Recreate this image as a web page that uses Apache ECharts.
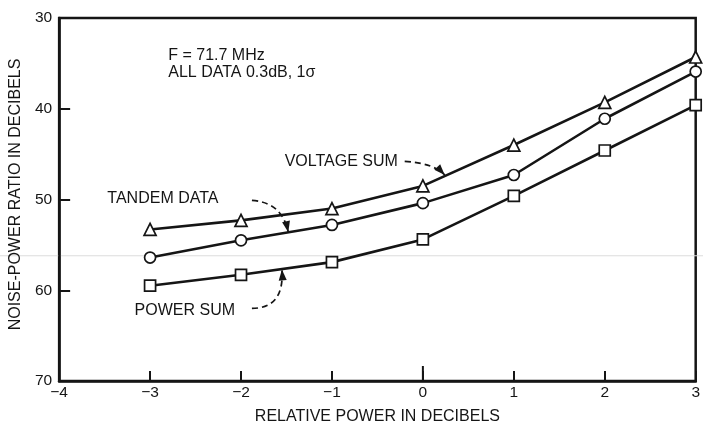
<!DOCTYPE html>
<html><head><meta charset="utf-8">
<script src="https://cdn.jsdelivr.net/npm/echarts@6/dist/echarts.min.js"></script>
<style>html,body{margin:0;padding:0;background:#fff;overflow:hidden}#c{width:703px;height:430px}</style>
</head><body><div id="c"></div>
<script>
const xValues = [-3, -2, -1, 0, 1, 2, 3];
const voltageSum = [53.3, 52.3, 51.0, 48.5, 44.0, 39.3, 34.3];
const tandemData = [56.4, 54.5, 52.8, 50.4, 47.3, 41.1, 35.9];
const powerSum = [59.5, 58.3, 56.9, 54.4, 49.6, 44.6, 39.6];
const xTicks = [-4, -3, -2, -1, 0, 1, 2, 3];
const yTicks = [30, 40, 50, 60, 70];

const FONT = '"Liberation Sans", Arial, sans-serif';
const INK = '#151515';
const chart = echarts.init(document.getElementById('c'));
const pairs = arr => xValues.map((x, i) => [x, arr[i]]);
const mk = (name, data, sym, size) => ({
  name, type: 'line', data: pairs(data), symbol: sym, symbolSize: size,
  showAllSymbol: true, clip: false,
  lineStyle: { color: INK, width: 2.6 },
  itemStyle: { color: '#fff', borderColor: INK, borderWidth: 1.7 },
  z: 3
});
chart.setOption({
  animation: false,
  backgroundColor: '#fff',
  grid: { left: 58, right: 1, top: 18, bottom: 43, show: true, borderColor: INK, borderWidth: 2.5, backgroundColor: 'transparent' },
  xAxis: {
    type: 'value', min: xTicks[0], max: xTicks[xTicks.length - 1], interval: 1,
    name: 'RELATIVE POWER IN DECIBELS', nameLocation: 'middle', nameGap: 28,
    nameTextStyle: { fontFamily: FONT, fontSize: 16, color: INK },
    axisLine: { show: true, onZero: false, lineStyle: { color: INK, width: 2.6 } },
    axisTick: { show: true, inside: true, length: 10, lineStyle: { color: INK, width: 2 } },
    axisLabel: { fontFamily: FONT, fontSize: 15.5, color: INK, margin: 4,
      formatter: v => (v < 0 ? '\u2212' + Math.abs(v) : String(v)) },
    splitLine: { show: false }
  },
  yAxis: {
    type: 'value', min: yTicks[0], max: yTicks[yTicks.length - 1], interval: 10, inverse: true,
    name: 'NOISE-POWER RATIO IN DECIBELS', nameLocation: 'middle', nameGap: 34, nameRotate: 90,
    nameTextStyle: { fontFamily: FONT, fontSize: 16, color: INK, padding: [0, 0, 0, 10] },
    axisLine: { show: true, onZero: false, lineStyle: { color: INK, width: 2.6 } },
    axisTick: { show: true, inside: true, length: 11, lineStyle: { color: INK, width: 2 } },
    axisLabel: { fontFamily: FONT, fontSize: 15.5, color: INK, margin: 7 },
    splitLine: { show: false }
  },
  series: [
    mk('VOLTAGE SUM', voltageSum, 'triangle', 12),
    mk('TANDEM DATA', tandemData, 'circle', 11),
    mk('POWER SUM', powerSum, 'rect', 11)
  ]
});

// Annotation anchors in data coordinates
const notes = [
  { text: 'F = 71.7 MHz', at: [-2.80, 34.1] },
  { text: 'ALL DATA 0.3dB, 1\u03C3', at: [-2.80, 36.0] },
  { text: 'VOLTAGE SUM', at: [-1.52, 45.8] },
  { text: 'TANDEM DATA', at: [-3.47, 49.9] },
  { text: 'POWER SUM', at: [-3.17, 62.2] }
];
// dashed arrows: start, control, tip (data coords)
const arrows = [
  { s: [-0.20, 45.8], c: [0.12, 46.0], t: [0.24, 47.3] },
  { s: [-1.88, 50.1], c: [-1.55, 50.3], t: [-1.48, 53.6] },
  { s: [-1.88, 62.0], c: [-1.52, 62.0], t: [-1.55, 57.7] }
];
const px = p => chart.convertToPixel({ gridIndex: 0 }, p);
const g = [];
notes.forEach(n => {
  const p = px(n.at);
  g.push({ type: 'text', x: p[0], y: p[1], z: 10,
    style: { text: n.text, font: '16px ' + FONT, fill: INK, verticalAlign: 'middle', align: 'left' } });
});
arrows.forEach(a => {
  const s = px(a.s), c = px(a.c), t = px(a.t);
  g.push({ type: 'bezierCurve', z: 10,
    shape: { x1: s[0], y1: s[1], x2: t[0], y2: t[1], cpx1: c[0], cpy1: c[1] },
    style: { stroke: INK, lineWidth: 1.7, lineDash: [6, 4], fill: null } });
  const dx = t[0] - c[0], dy = t[1] - c[1];
  const L = Math.hypot(dx, dy), ux = dx / L, uy = dy / L;
  const len = 11, w = 4;
  const bx = t[0] - ux * len, by = t[1] - uy * len;
  g.push({ type: 'polygon', z: 11,
    shape: { points: [[t[0], t[1]], [bx - uy * w, by + ux * w], [bx + uy * w, by - ux * w]] },
    style: { fill: INK } });
});
// longer tick at x = 0
const z0 = px([0, 70]);
g.push({ type: 'line', z: 5, shape: { x1: z0[0], y1: z0[1], x2: z0[0], y2: z0[1] - 15 }, style: { stroke: INK, lineWidth: 2 } });
// faint scan line
const sl = px([-4, 56.2]);
g.push({ type: 'line', z: 0, shape: { x1: 0, y1: sl[1], x2: 703, y2: sl[1] }, style: { stroke: '#dcdcdc', lineWidth: 1 } });
chart.setOption({ graphic: g });
</script></body></html>
